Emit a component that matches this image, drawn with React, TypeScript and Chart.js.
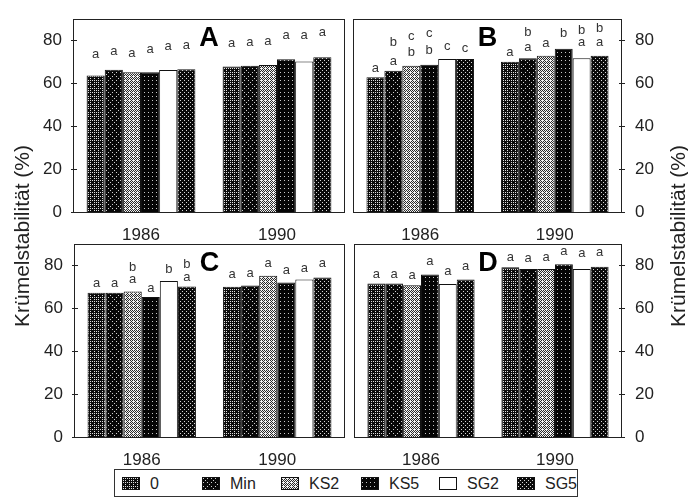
import React, { useEffect, useRef, useState } from "react";
import { Chart, registerables } from "chart.js";
Chart.register(...registerables);

const FONT = '"Liberation Sans", Arial, sans-serif';

const years = ["1986", "1990"];
const treatments = ["0", "Min", "KS2", "KS5", "SG2", "SG5"];
const yTickValues = [0, 20, 40, 60, 80];
const yTitle = "Krümelstabilität (%)";

// Panel A
const barsA1986 = [63.7, 66.3, 65.2, 65.2, 66.2, 66.6];
const barsA1990 = [67.9, 68.2, 68.6, 71.2, 70.2, 72.2];
const lowA1986 = ["a", "a", "a", "a", "a", "a"];
const lowYA1986 = [73.6, 75.1, 74.0, 75.6, 77.1, 77.6];
const lowA1990 = ["a", "a", "a", "a", "a", "a"];
const lowYA1990 = [78.6, 79.1, 79.4, 82.5, 82.2, 83.7];

// Panel B
const barsB1986 = [62.8, 65.9, 68.2, 68.7, 71.4, 71.4];
const barsB1990 = [70.1, 71.7, 72.9, 76.1, 71.7, 72.9];
const lowB1986 = ["a", "a", "b", "b", "c", "c"];
const lowYB1986 = [67.0, 70.3, 74.5, 75.3, 77.1, 76.4];
const upB1986 = ["", "b", "c", "c", "", ""];
const upYB1986 = [null, 79.2, 82.0, 83.1, null, null];
const lowB1990 = ["a", "a", "a", "b", "a", "a"];
const lowYB1990 = [74.5, 76.8, 78.4, 83.4, 79.2, 79.2];
const upB1990 = ["", "b", "", "", "b", "b"];
const upYB1990 = [null, 83.9, null, null, 84.7, 85.4];

// Panel C
const barsC1986 = [67.3, 67.3, 67.9, 65.3, 72.7, 70.2];
const barsC1990 = [70.1, 70.6, 75.2, 72.1, 73.5, 74.4];
const lowC1986 = ["a", "a", "a", "a", "b", "a"];
const lowYC1986 = [71.8, 71.8, 73.3, 69.5, 78.0, 74.6];
const upC1986 = ["", "", "b", "", "", "b"];
const upYC1986 = [null, null, 79.2, null, null, 80.5];
const lowC1990 = ["a", "a", "a", "a", "a", "a"];
const lowYC1990 = [75.8, 76.1, 80.8, 77.7, 78.5, 80.8];

// Panel D
const barsD1986 = [71.6, 71.6, 70.8, 75.8, 71.4, 73.4];
const barsD1990 = [79.1, 78.3, 78.3, 80.5, 78.3, 79.4];
const lowD1986 = ["a", "a", "a", "a", "a", "a"];
const lowYD1986 = [75.8, 75.8, 75.5, 82.1, 77.4, 79.4];
const lowD1990 = ["a", "a", "a", "a", "a", "a"];
const lowYD1990 = [83.7, 83.4, 83.7, 86.5, 85.7, 86.1];

const emptyText = ["", "", "", "", "", ""];
const emptyY = [null, null, null, null, null, null];

// stipple styles per treatment: fraction of light pixels, dark colour, light colour
const stippleLight = [0.2, 0.08, 0.55, 0.05, 1.0, 0.12];
const stippleDark = ["#0c0c0c", "#080808", "#2a2a2a", "#050505", "#ffffff", "#0a0a0a"];
const stippleLite = ["#e0e0e0", "#d0d0d0", "#f2f2f2", "#c8c8c8", "#ffffff", "#d8d8d8"];

const bayer = [
  [0, 32, 8, 40, 2, 34, 10, 42],
  [48, 16, 56, 24, 50, 18, 58, 26],
  [12, 44, 4, 36, 14, 46, 6, 38],
  [60, 28, 52, 20, 62, 30, 54, 22],
  [3, 35, 11, 43, 1, 33, 9, 41],
  [51, 19, 59, 27, 49, 17, 57, 25],
  [15, 47, 7, 39, 13, 45, 5, 37],
  [63, 31, 55, 23, 61, 29, 53, 21],
];

const patternCache: any[] = [];
function patternCanvas(i: number): HTMLCanvasElement {
  if (patternCache[i]) return patternCache[i];
  const c = document.createElement("canvas");
  c.width = 8;
  c.height = 8;
  const ctx = c.getContext("2d")!;
  for (let y = 0; y < 8; y++) {
    for (let x = 0; x < 8; x++) {
      ctx.fillStyle = bayer[y][x] < stippleLight[i] * 64 ? stippleLite[i] : stippleDark[i];
      ctx.fillRect(x, y, 1, 1);
    }
  }
  patternCache[i] = c;
  return c;
}
function patternFill(i: number): any {
  const c = patternCanvas(i);
  return c.getContext("2d")!.createPattern(c, "repeat");
}

type PanelProps = {
  left: number;
  top: number;
  width: number;
  height: number;
  side: "left" | "right";
  padLeft: number;
  padRight: number;
  axisW: number;
  label: string;
  bars86: number[];
  bars90: number[];
  low86: string[];
  lowY86: (number | null)[];
  up86: string[];
  upY86: (number | null)[];
  low90: string[];
  lowY90: (number | null)[];
  up90: string[];
  upY90: (number | null)[];
};

function Panel(p: PanelProps) {
  const ref = useRef<HTMLCanvasElement>(null);
  useEffect(() => {
    const datasets = treatments.map((t, i) => ({
      label: t,
      data: [p.bars86[i], p.bars90[i]],
      backgroundColor: patternFill(i),
      borderColor: "#111",
      borderWidth: 1,
      categoryPercentage: 0.8,
      barPercentage: 1.0,
    }));
    const deco = {
      id: "panelDeco",
      afterDatasetsDraw(chart: any) {
        const { ctx, chartArea: a, scales } = chart;
        const y = scales.y;
        const x = scales.x;
        ctx.save();
        ctx.strokeStyle = "#222";
        ctx.lineWidth = 1;
        ctx.strokeRect(
          Math.round(a.left) + 0.5,
          Math.round(a.top) + 0.5,
          Math.round(a.right - a.left) - 1,
          Math.round(a.bottom - a.top)
        );
        const ax = p.side === "left" ? Math.round(a.left) : Math.round(a.right) - 1;
        yTickValues.forEach((v) => {
          const py = Math.round(y.getPixelForValue(v)) + 0.5;
          ctx.beginPath();
          ctx.moveTo(ax - 2, py);
          ctx.lineTo(ax + 4, py);
          ctx.stroke();
        });
        ctx.fillStyle = "#333";
        ctx.font = "13px " + FONT;
        ctx.textAlign = "center";
        ctx.textBaseline = "middle";
        const rows: [string[], (number | null)[], number][] = [
          [p.low86, p.lowY86, 0],
          [p.up86, p.upY86, 0],
          [p.low90, p.lowY90, 1],
          [p.up90, p.upY90, 1],
        ];
        rows.forEach(([txt, vals, cat]) => {
          txt.forEach((s, i) => {
            const v = vals[i];
            if (!s || v == null) return;
            const el = chart.getDatasetMeta(i).data[cat];
            ctx.fillText(s, el.x, y.getPixelForValue(v));
          });
        });
        const gx = (x.getPixelForValue(0) + x.getPixelForValue(1)) / 2;
        ctx.fillStyle = "#000";
        ctx.font = "bold 27px " + FONT;
        ctx.fillText(p.label, gx, y.getPixelForValue(81));
        ctx.restore();
      },
    };
    const chart = new Chart(ref.current!, {
      type: "bar",
      data: { labels: years, datasets },
      options: {
        animation: false,
        responsive: false,
        layout: { padding: { left: p.padLeft, right: p.padRight, top: 19, bottom: 0 } },
        plugins: { legend: { display: false }, tooltip: { enabled: false } },
        scales: {
          x: {
            type: "category",
            grid: { display: false },
            border: { display: false },
            ticks: { font: { family: FONT, size: 17 }, color: "#222", padding: 5 },
            afterFit: (s: any) => {
              s.height = 28;
            },
          },
          y: {
            position: p.side,
            min: 0,
            max: 90,
            grid: { display: false },
            border: { display: false },
            afterBuildTicks: (s: any) => {
              s.ticks = yTickValues.map((v) => ({ value: v }));
            },
            ticks: { font: { family: FONT, size: 17 }, color: "#222", padding: p.side === "left" ? 3 : 5 },
            afterFit: (s: any) => {
              s.width = p.axisW;
            },
          },
        },
      } as any,
      plugins: [deco],
    });
    return () => chart.destroy();
  }, []);
  return (
    <div style={{ position: "absolute", left: p.left, top: p.top, width: p.width, height: p.height }}>
      <canvas ref={ref} width={p.width} height={p.height} style={{ display: "block" }} />
    </div>
  );
}

function Legend() {
  const [urls, setUrls] = useState<string[]>([]);
  useEffect(() => {
    setUrls(treatments.map((_, i) => patternCanvas(i).toDataURL()));
  }, []);
  const swatchLeft = [121, 201, 280, 360, 438, 516];
  return (
    <div
      style={{
        position: "absolute",
        left: 114,
        top: 469,
        width: 464,
        height: 28,
        border: "1px solid #333",
        boxSizing: "border-box",
      }}
    >
      {treatments.map((t, i) => (
        <React.Fragment key={t}>
          <div
            style={{
              position: "absolute",
              left: swatchLeft[i] - 114,
              top: 7,
              width: 18,
              height: 13,
              boxSizing: "border-box",
              border: "1px solid #111",
              backgroundImage: urls[i] ? `url(${urls[i]})` : undefined,
            }}
          />
          <div
            style={{
              position: "absolute",
              left: swatchLeft[i] - 114 + 28,
              top: 4,
              fontFamily: FONT,
              fontSize: 16,
              lineHeight: "19px",
              color: "#222",
              whiteSpace: "nowrap",
            }}
          >
            {t}
          </div>
        </React.Fragment>
      ))}
    </div>
  );
}

function AxisTitle({ cx, cy }: { cx: number; cy: number }) {
  return (
    <div
      style={{
        position: "absolute",
        left: cx - 150,
        top: cy - 12,
        width: 300,
        height: 24,
        lineHeight: "24px",
        textAlign: "center",
        fontFamily: FONT,
        fontSize: 21,
        color: "#222",
        transform: "rotate(-90deg)",
        whiteSpace: "nowrap",
      }}
    >
      {yTitle}
    </div>
  );
}

export default function App() {
  return (
    <div
      style={{
        position: "fixed",
        left: 0,
        top: 0,
        width: 688,
        height: 500,
        background: "#fff",
        overflow: "hidden",
      }}
    >
      <Panel
        left={0} top={0} width={350} height={240} side="left" padLeft={0} padRight={5} axisW={73}
        label="A" bars86={barsA1986} bars90={barsA1990}
        low86={lowA1986} lowY86={lowYA1986} up86={emptyText} upY86={emptyY}
        low90={lowA1990} lowY90={lowYA1990} up90={emptyText} upY90={emptyY}
      />
      <Panel
        left={345} top={0} width={343} height={240} side="right" padLeft={8} padRight={0} axisW={66}
        label="B" bars86={barsB1986} bars90={barsB1990}
        low86={lowB1986} lowY86={lowYB1986} up86={upB1986} upY86={upYB1986}
        low90={lowB1990} lowY90={lowYB1990} up90={upB1990} upY90={upYB1990}
      />
      <Panel
        left={0} top={225} width={350} height={240} side="left" padLeft={0} padRight={5} axisW={74}
        label="C" bars86={barsC1986} bars90={barsC1990}
        low86={lowC1986} lowY86={lowYC1986} up86={upC1986} upY86={upYC1986}
        low90={lowC1990} lowY90={lowYC1990} up90={emptyText} upY90={emptyY}
      />
      <Panel
        left={345} top={225} width={343} height={240} side="right" padLeft={9} padRight={0} axisW={66}
        label="D" bars86={barsD1986} bars90={barsD1990}
        low86={lowD1986} lowY86={lowYD1986} up86={emptyText} upY86={emptyY}
        low90={lowD1990} lowY90={lowYD1990} up90={emptyText} upY90={emptyY}
      />
      <AxisTitle cx={22} cy={236} />
      <AxisTitle cx={678} cy={236} />
      <Legend />
    </div>
  );
}
